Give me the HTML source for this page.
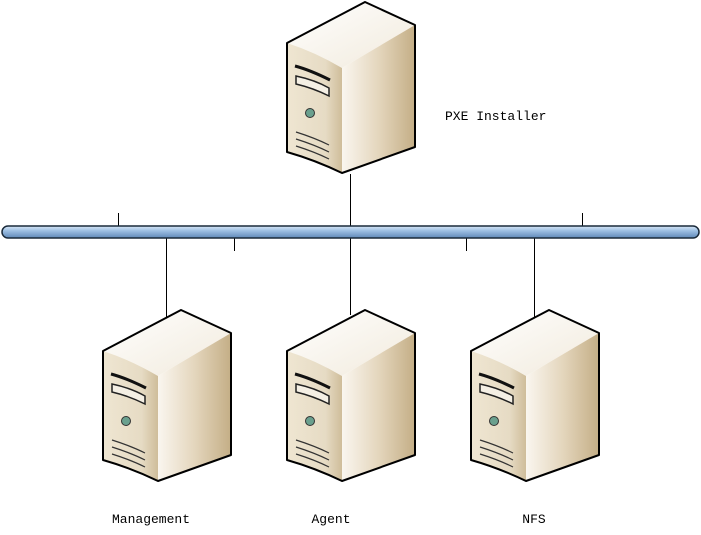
<!DOCTYPE html>
<html><head><style>
body{margin:0;background:#fff;}
svg{display:block}
text{font-family:"Liberation Mono","Noto Sans CJK SC",monospace;font-size:13px;fill:#000}
</style></head><body>
<svg width="701" height="535" viewBox="0 0 701 535" xmlns="http://www.w3.org/2000/svg">
<defs>
<linearGradient id="bus" x1="0" y1="0" x2="0" y2="1">
<stop offset="0" stop-color="#d8e6f5"/><stop offset="0.4" stop-color="#9dbfe3"/><stop offset="1" stop-color="#5f88b8"/>
</linearGradient>
<linearGradient id="side" x1="0" y1="0" x2="1" y2="0">
<stop offset="0" stop-color="#faf6ef"/><stop offset="0.5" stop-color="#e4d6bd"/><stop offset="1" stop-color="#c4ae86"/>
</linearGradient>
<linearGradient id="front" x1="0" y1="0" x2="1" y2="0">
<stop offset="0" stop-color="#efe6d2"/><stop offset="0.7" stop-color="#e6dbc4"/><stop offset="1" stop-color="#cfbd9a"/>
</linearGradient>
<linearGradient id="top" x1="0" y1="0" x2="1" y2="1">
<stop offset="0" stop-color="#ffffff"/><stop offset="1" stop-color="#f1eadc"/>
</linearGradient>
<g id="srv">
<path d="M287,43 Q315,52 342,68 L415,25 L365,2 Z" fill="url(#top)"/>
<path d="M287,43 Q315,52 342,68 L342,173 Q315,160 287,152 Z" fill="url(#front)"/>
<path d="M342,68 L415,25 L415,147 L342,173 Z" fill="url(#side)"/>
<path d="M287,43 L365,2 L415,25 L415,147 L342,173 Q315,160 287,152 Z" fill="none" stroke="#000" stroke-width="2" stroke-linejoin="round"/>
<path d="M295,66 Q310,70 330,80" stroke="#111" stroke-width="3" fill="none"/>
<path d="M296,76 Q315,80 329,88 L329,96 Q313,88 296,84 Z" fill="#f4efe4" stroke="#222" stroke-width="1.5"/>
<circle cx="310" cy="113" r="4.5" fill="#6aa08e" stroke="#333" stroke-width="1"/>
<path d="M296,132 Q315,138 329,145 M296,139 Q315,145 329,152 M296,146 Q315,152 329,159" stroke="#333" stroke-width="1.2" fill="none"/>
</g>
</defs>
<use href="#srv"/>
<use href="#srv" transform="translate(-184,308)"/>
<use href="#srv" transform="translate(0,308)"/>
<use href="#srv" transform="translate(184,308)"/>
<g stroke="#000" stroke-width="1">
<line x1="350.5" y1="174" x2="350.5" y2="226"/>
<line x1="118.5" y1="213" x2="118.5" y2="226"/>
<line x1="582.5" y1="213" x2="582.5" y2="226"/>
<line x1="234.5" y1="238" x2="234.5" y2="251"/>
<line x1="466.5" y1="238" x2="466.5" y2="251"/>
<line x1="166.5" y1="238" x2="166.5" y2="318"/>
<line x1="350.5" y1="238" x2="350.5" y2="315"/>
<line x1="534.5" y1="238" x2="534.5" y2="318"/>
</g>
<rect x="2" y="226" width="697" height="12" rx="6" fill="url(#bus)" stroke="#1a2a3a" stroke-width="1.5"/>
<text x="445" y="120">PXE Installer</text>
<text x="151" y="523" text-anchor="middle">Management</text>
<text x="331" y="523" text-anchor="middle">Agent</text>
<text x="534" y="523" text-anchor="middle">NFS</text>
</svg>
</body></html>
